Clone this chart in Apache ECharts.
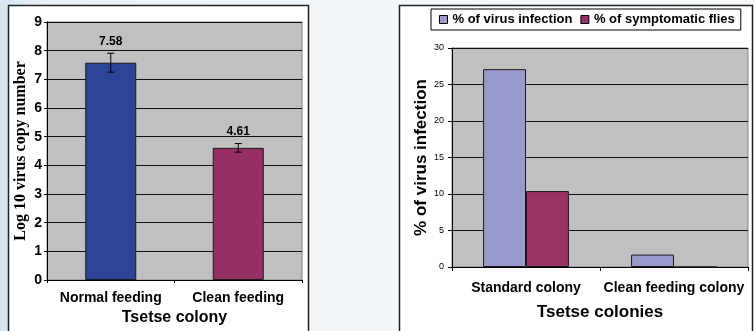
<!DOCTYPE html>
<html>
<head>
<meta charset="utf-8">
<script src="https://cdn.jsdelivr.net/npm/echarts@6/dist/echarts.min.js"></script>
<style>
html,body{margin:0;padding:0;}
body{width:754px;height:331px;overflow:hidden;background:linear-gradient(to right,#d6e4f0 0px,#e9f1f8 40px,#f1f6fa 300px,#f6f9fb 754px);}
#c{width:754px;height:331px;}
</style>
</head>
<body>
<div id="c"></div>
<script>
// Left chart data
const leftCategories = ['Normal feeding', 'Clean feeding'];
const leftValues = [7.58, 4.61];
const leftErrors = [0.33, 0.15];
const leftColors = ['#2c4599', '#962f63'];

// Right chart data
const rightCategories = ['Standard colony', 'Clean feeding colony'];
const seriesNames = ['% of virus infection', '% of symptomatic flies'];
const virusInfection = [27.1, 1.7];
const symptomaticFlies = [10.4, 0];
const rightColors = ['#9999cc', '#993366'];

const FONT = 'Liberation Sans, Arial, sans-serif';
const chart = echarts.init(document.getElementById('c'), null, {renderer: 'canvas'});

const option = {
  animation: false,
  textStyle: {fontFamily: FONT},
  graphic: {
    elements: [
      {type: 'rect', z: -100, shape: {x: 8.5, y: 5.5, width: 300, height: 340},
       style: {fill: '#ffffff', stroke: '#222222', lineWidth: 1.5}},
      {type: 'rect', z: -100, shape: {x: 399.5, y: 5.5, width: 353, height: 340},
       style: {fill: '#ffffff', stroke: '#222222', lineWidth: 1.5}}
    ]
  },
  legend: {
    left: 431, top: 9,
    padding: [4, 6, 4, 8],
    itemWidth: 8, itemHeight: 8, itemGap: 8,
    borderColor: '#000', borderWidth: 1,
    backgroundColor: '#fff',
    selectedMode: false,
    data: seriesNames.map((n) => ({name: n, icon: 'rect', itemStyle: {borderColor: '#000', borderWidth: 1}})),
    textStyle: {fontFamily: FONT, fontWeight: 'bold', fontSize: 13, color: '#000'}
  },
  grid: [
    {left: 47, top: 22, width: 255, height: 262, show: true, backgroundColor: '#c0c0c0', borderColor: '#808080', borderWidth: 1},
    {left: 452, top: 48, width: 296, height: 219, show: true, backgroundColor: '#c0c0c0', borderColor: '#808080', borderWidth: 1}
  ],
  xAxis: [
    {
      gridIndex: 0, type: 'category', data: leftCategories,
      axisLine: {lineStyle: {color: '#000', width: 1}},
      axisTick: {show: true, length: 3, lineStyle: {color: '#000'}},
      axisLabel: {interval: 0, margin: 11, fontFamily: FONT, fontWeight: 'bold', fontSize: 14, color: '#000'},
      name: 'Tsetse colony', nameLocation: 'middle', nameGap: 30,
      nameTextStyle: {fontFamily: FONT, fontWeight: 'bold', fontSize: 16, color: '#000'}
    },
    {
      gridIndex: 1, type: 'category', data: rightCategories,
      axisLine: {lineStyle: {color: '#000', width: 1}},
      axisTick: {show: true, length: 4, lineStyle: {color: '#000'}},
      axisLabel: {interval: 0, margin: 14, fontFamily: FONT, fontWeight: 'bold', fontSize: 14, color: '#000'},
      name: 'Tsetse colonies', nameLocation: 'middle', nameGap: 37,
      nameTextStyle: {fontFamily: FONT, fontWeight: 'bold', fontSize: 17, color: '#000'}
    }
  ],
  yAxis: [
    {
      gridIndex: 0, type: 'value', min: 0, max: 9, interval: 1,
      axisLine: {show: true, lineStyle: {color: '#000', width: 1}},
      axisTick: {show: true, length: 3, lineStyle: {color: '#000'}},
      axisLabel: {margin: 5, fontFamily: FONT, fontWeight: 'bold', fontSize: 14, color: '#000'},
      splitLine: {show: true, lineStyle: {color: '#111', width: 1}},
      name: 'Log 10 virus copy number', nameLocation: 'middle', nameRotate: 90, nameGap: 18,
      nameTextStyle: {fontFamily: 'Liberation Serif, Times New Roman, serif', fontWeight: 'bold', fontSize: 16, color: '#000'}
    },
    {
      gridIndex: 1, type: 'value', min: 0, max: 30, interval: 5,
      axisLine: {show: true, lineStyle: {color: '#000', width: 1}},
      axisTick: {show: true, length: 4, lineStyle: {color: '#000'}},
      axisLabel: {margin: 8, fontFamily: FONT, fontSize: 9, color: '#000'},
      splitLine: {show: true, lineStyle: {color: '#111', width: 1}},
      name: '% of virus infection', nameLocation: 'middle', nameRotate: 90, nameGap: 21,
      nameTextStyle: {fontFamily: FONT, fontWeight: 'bold', fontSize: 17, color: '#000'}
    }
  ],
  series: [
    {
      type: 'bar', xAxisIndex: 0, yAxisIndex: 0,
      barCategoryGap: '60%',
      data: leftValues.map((v, i) => ({value: v, itemStyle: {color: leftColors[i]}})),
      itemStyle: {borderColor: '#1a1a1a', borderWidth: 1}
    },
    {
      type: 'custom', xAxisIndex: 0, yAxisIndex: 0, z: 10,
      data: leftValues.map((v, i) => [i, v, leftErrors[i]]),
      encode: {x: 0, y: 1},
      renderItem: function (params, api) {
        const x = api.value(0), v = api.value(1), e = api.value(2);
        const hi = api.coord([x, v + e]);
        const lo = api.coord([x, v - e]);
        const w = 3.5;
        const st = {stroke: '#000', lineWidth: 1};
        return {
          type: 'group',
          children: [
            {type: 'line', shape: {x1: hi[0], y1: hi[1], x2: lo[0], y2: lo[1]}, style: st},
            {type: 'line', shape: {x1: hi[0] - w, y1: hi[1], x2: hi[0] + w, y2: hi[1]}, style: st},
            {type: 'line', shape: {x1: lo[0] - w, y1: lo[1], x2: lo[0] + w, y2: lo[1]}, style: st},
            {type: 'text', style: {text: v.toFixed(2), x: hi[0], y: hi[1] - 12, align: 'center', verticalAlign: 'middle',
              font: 'bold 12px ' + FONT, fill: '#000'}}
          ]
        };
      }
    },
    {
      name: seriesNames[0], type: 'bar', xAxisIndex: 1, yAxisIndex: 1,
      barCategoryGap: '42%', barGap: '0%',
      data: virusInfection,
      itemStyle: {color: rightColors[0], borderColor: '#1a1a1a', borderWidth: 1}
    },
    {
      name: seriesNames[1], type: 'bar', xAxisIndex: 1, yAxisIndex: 1,
      barCategoryGap: '42%', barGap: '0%',
      data: symptomaticFlies,
      itemStyle: {color: rightColors[1], borderColor: '#1a1a1a', borderWidth: 1}
    }
  ]
};
chart.setOption(option);
</script>
</body>
</html>
